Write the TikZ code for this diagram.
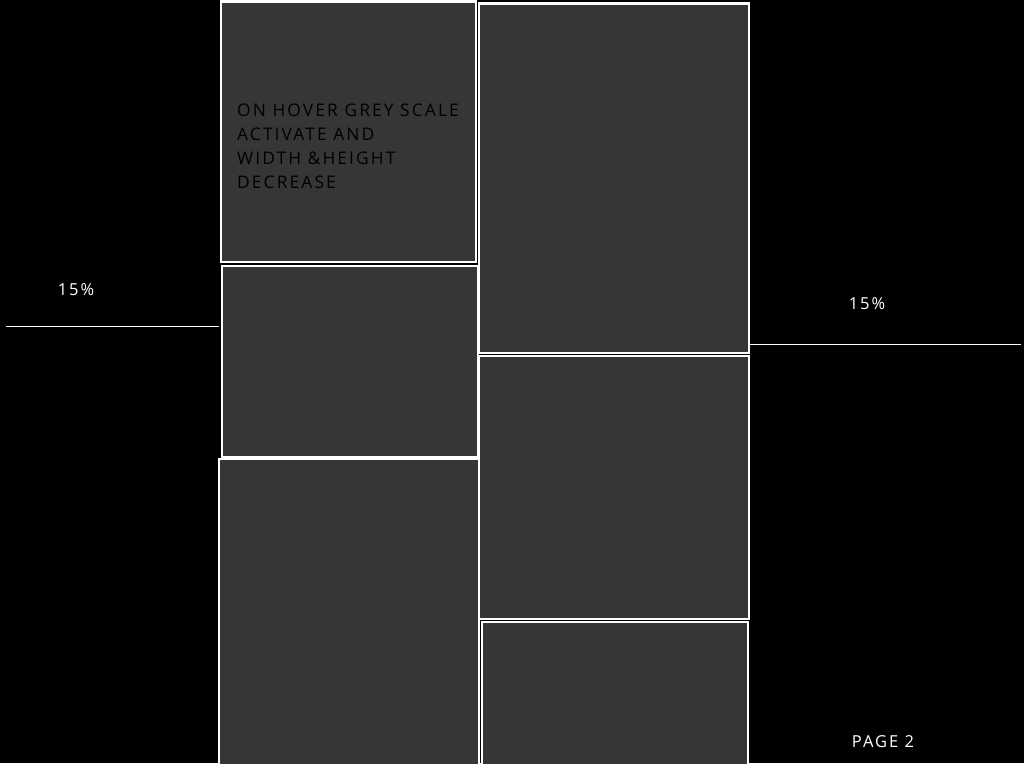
\documentclass[tikz,border=0pt]{standalone}
\usepackage{fontspec}
\setmainfont{Open Sans}
\newfontfamily\spacedfont[LetterSpace=12]{Open Sans}
\definecolor{panelgrey}{HTML}{363636}
\begin{document}
\begin{tikzpicture}[x=1pt,y=-1pt,
  panel/.style={draw=white,line width=2.6pt,fill=panelgrey},
  whitetxt/.style={text=white,font=\spacedfont\fontsize{16.5}{18}\selectfont,inner sep=0pt},
  rule/.style={draw=white,line width=1pt}]
\useasboundingbox (0,0) rectangle (1024,763);
\fill[black] (0,0) rectangle (1024,763);
% left column
\path[panel] (221,1.5) rectangle (476,262);
\path[panel] (222,266) rectangle (478,457);
\path[panel] (219,459) rectangle (479,766);
% right column
\path[panel] (479,3.5) rectangle (749,353);
\path[panel] (479,356) rectangle (749,619);
\path[panel] (482,622) rectangle (748,766);
% caption text
\node[anchor=north west,inner sep=0pt,align=left,text=black,
  font=\spacedfont\fontsize{17.4}{24}\selectfont] (cap) at (237,103.5)
  {ON HOVER GREY SCALE\\ACTIVATE AND\\WIDTH \&HEIGHT\\DECREASE};
% margin labels
\node[whitetxt] (lp) at (76,290) {15\%};
\node[whitetxt] (rp) at (867,304) {15\%};
\node[whitetxt] (pg) at (883,742) {PAGE 2};
% rules
\coordinate (la) at (6,326); \coordinate (lb) at (219,326);
\coordinate (ra) at (750,344); \coordinate (rb) at (1021,344);
\draw[rule] (la) -- (lb);
\draw[rule] (ra) -- (rb);
\end{tikzpicture}
\end{document}
